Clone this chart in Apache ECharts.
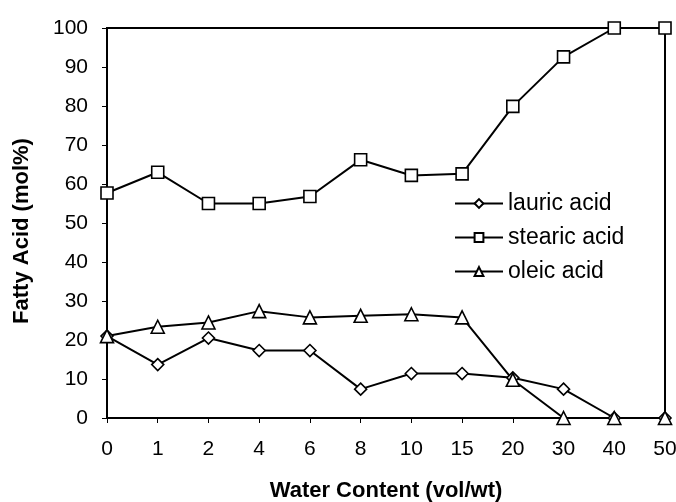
<!DOCTYPE html>
<html>
<head>
<meta charset="utf-8">
<script src="https://cdn.jsdelivr.net/npm/echarts@6/dist/echarts.min.js"></script>
<style>html,body{margin:0;padding:0;background:#fff;}#c{width:676px;height:502px;}</style>
</head>
<body>
<div id="c"></div>
<script>
const categories = ['0','1','2','4','6','8','10','15','20','30','40','50'];
const lauric = [21, 13.7, 20.5, 17.3, 17.3, 7.4, 11.4, 11.4, 10.3, 7.4, 0, 0];
const stearic = [57.7, 63.0, 55.0, 55.0, 56.8, 66.2, 62.2, 62.6, 79.9, 92.6, 100, 100];
const oleic = [21, 23.4, 24.5, 27.4, 25.8, 26.2, 26.6, 25.8, 9.8, 0, 0, 0];
const seriesNames = ['lauric acid', 'stearic acid', 'oleic acid'];
const yTicks = {min: 0, max: 100, interval: 10};

const font = 'Arial, "Liberation Sans", Helvetica, sans-serif';
const chart = echarts.init(document.getElementById('c'), null, {renderer: 'canvas'});
function mk(name, data, symbol, size) {
  return {
    name: name, type: 'line', data: data, symbol: symbol, symbolSize: size,
    showAllSymbol: true,
    lineStyle: {color: '#000', width: 2},
    itemStyle: {color: '#fff', borderColor: '#000', borderWidth: 1.6},
    emphasis: {disabled: true}, animation: false
  };
}
chart.setOption({
  animation: false,
  backgroundColor: '#fff',
  grid: {left: 107, right: 11, top: 28, bottom: 84, containLabel: false, outerBoundsMode: 'none',
         show: true, borderColor: '#000', borderWidth: 2, backgroundColor: 'transparent'},
  legend: {
    orient: 'vertical', left: 454, top: 192, padding: 0, itemGap: 11,
    itemWidth: 48, itemHeight: 11,
    data: seriesNames,
    textStyle: {fontFamily: font, fontSize: 23, color: '#000'}
  },
  xAxis: {
    type: 'category', data: categories, boundaryGap: false,
    name: 'Water Content (vol/wt)', nameLocation: 'middle', nameGap: 62,
    nameTextStyle: {fontFamily: font, fontSize: 22, fontWeight: 'bold', color: '#000'},
    axisLine: {lineStyle: {color: '#000', width: 2}},
    axisTick: {show: true, length: 5, interval: 0, lineStyle: {color: '#000', width: 1}},
    axisLabel: {fontFamily: font, fontSize: 21, color: '#000', margin: 21, interval: 0},
    splitLine: {show: false}
  },
  yAxis: {
    type: 'value', min: yTicks.min, max: yTicks.max, interval: yTicks.interval,
    name: 'Fatty Acid (mol%)', nameLocation: 'middle', nameGap: 74, nameRotate: 90,
    nameTextStyle: {fontFamily: font, fontSize: 22, fontWeight: 'bold', color: '#000', padding: [0, 16, 0, 0]},
    axisLine: {show: true, lineStyle: {color: '#000', width: 2}},
    axisTick: {show: true, length: 5, lineStyle: {color: '#000', width: 1}},
    axisLabel: {fontFamily: font, fontSize: 21, color: '#000', margin: 19},
    splitLine: {show: false}
  },
  series: [
    mk(seriesNames[0], lauric, 'diamond', 12),
    mk(seriesNames[1], stearic, 'rect', 12),
    mk(seriesNames[2], oleic, 'triangle', 13)
  ]
});
</script>
</body>
</html>
